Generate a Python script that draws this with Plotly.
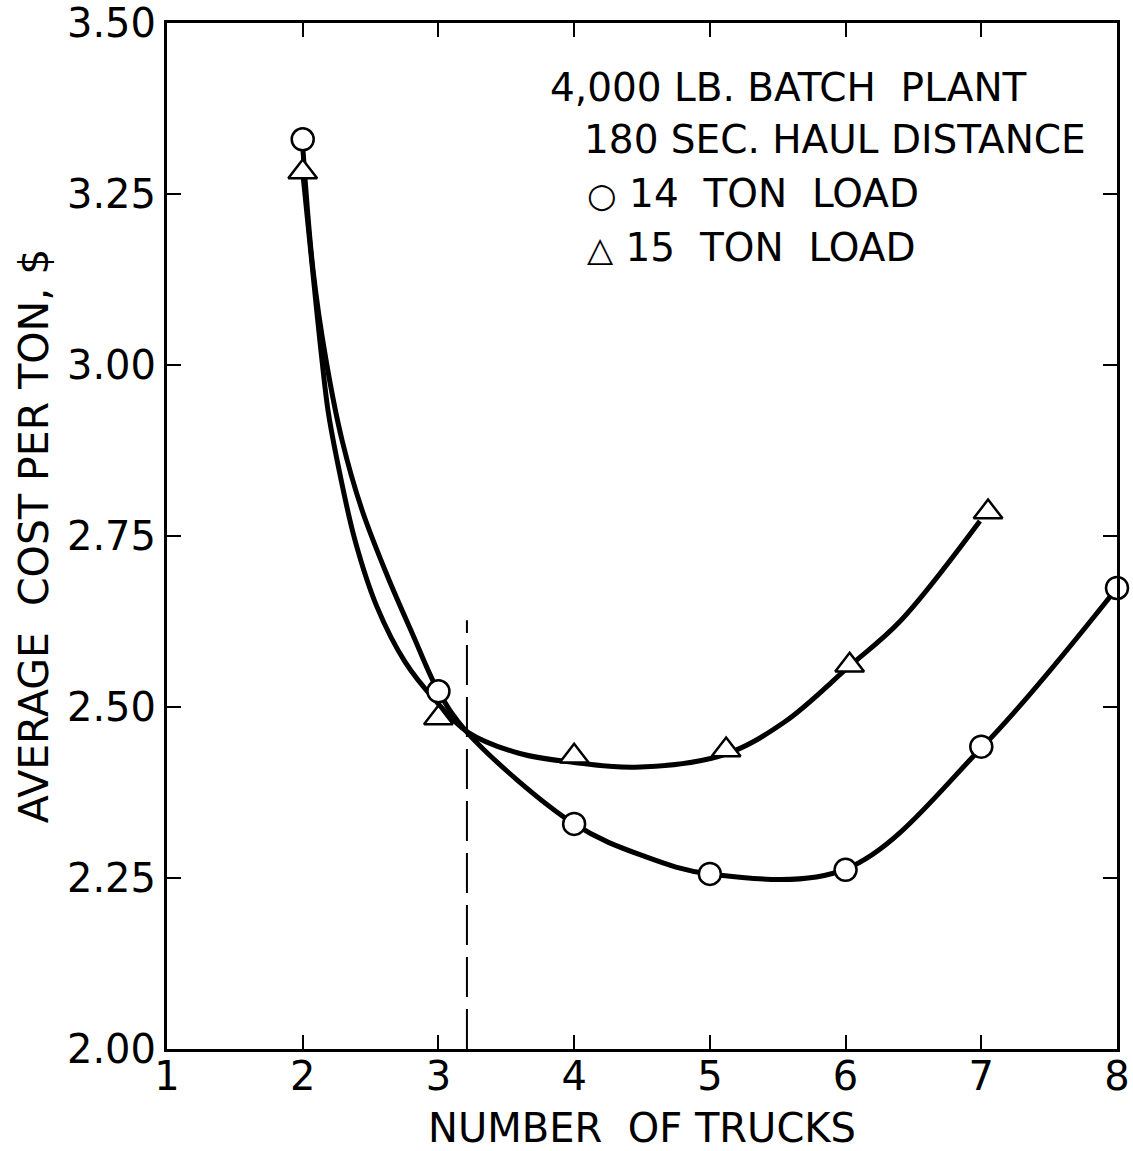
import plotly.graph_objects as go

# Measured points
trucks_14 = [2, 3, 4, 5, 6, 7, 8]
cost_14 = [3.33, 2.523, 2.329, 2.256, 2.262, 2.442, 2.674]

trucks_15 = [2, 3, 4, 5.12, 6.03, 7.05]
cost_15 = [3.282, 2.484, 2.428, 2.437, 2.561, 2.785]

# Hand-faired curves (knots)
curve_x_14 = [2.0, 2.076, 2.172, 2.290, 2.437, 2.621, 2.813, 3.0, 3.211, 4.0, 4.5, 5.0, 6.0, 7.0, 8.0]
curve_y_14 = [3.32, 3.139, 3.007, 2.890, 2.788, 2.693, 2.605, 2.523, 2.463, 2.329, 2.283, 2.256, 2.263, 2.44, 2.674]

curve_x_15 = [2.0, 2.105, 2.142, 2.186, 2.253, 2.385, 2.548, 2.754, 2.975, 3.218, 3.6, 4.0, 4.45, 5.1, 5.55, 6.03, 6.4, 6.99]
curve_y_15 = [3.282, 3.076, 3.007, 2.934, 2.861, 2.744, 2.646, 2.566, 2.510, 2.463, 2.432, 2.419, 2.412, 2.43, 2.478, 2.56, 2.625, 2.772]

cutoff_x = 3.21
cutoff_top = 2.627

x_ticks = [1, 2, 3, 4, 5, 6, 7, 8]
y_ticks = [2.00, 2.25, 2.50, 2.75, 3.00, 3.25, 3.50]
y_tick_labels = ["2.00", "2.25", "2.50", "2.75", "3.00", "3.25", "3.50"]

FONT = "DejaVu Sans"
NB = "\u00a0"

W, H = 1133, 1151
L, R, T, B = 167, 16, 23, 102
PW, PH = W - L - R, H - T - B

fig = go.Figure()

fig.add_trace(go.Scatter(x=curve_x_14, y=curve_y_14, mode="lines", name="14 ton curve",
                         line=dict(color="black", width=5, shape="spline", smoothing=1.0),
                         showlegend=False, hoverinfo="skip"))
fig.add_trace(go.Scatter(x=curve_x_15, y=curve_y_15, mode="lines", name="15 ton curve",
                         line=dict(color="black", width=5, shape="spline", smoothing=1.0),
                         showlegend=False, hoverinfo="skip"))

fig.add_trace(go.Scatter(x=trucks_14, y=cost_14, mode="markers", name="14 TON LOAD",
                         marker=dict(symbol="circle", size=22, color="white",
                                     line=dict(color="black", width=2.5)),
                         cliponaxis=False, showlegend=False))
fig.add_trace(go.Scatter(x=trucks_15, y=cost_15, mode="markers", name="15 TON LOAD",
                         marker=dict(symbol="triangle-up", size=25, color="white",
                                     line=dict(color="black", width=2.5)),
                         cliponaxis=False, showlegend=False))

fig.add_shape(type="line", x0=cutoff_x, x1=cutoff_x, y0=2.0, y1=cutoff_top, xref="x", yref="y",
              line=dict(color="black", width=2, dash="40px,12px"))

SYM = '<span style="font-size:34px">{}</span>'
notes = [
    ("4,000 LB. BATCH" + NB + NB + "PLANT", 548, 87),
    ("180 SEC. HAUL DISTANCE", 582, 139),
    (SYM.format("\u25cb") + NB + "14" + NB + NB + "TON" + NB + NB + "LOAD", 585, 193),
    (SYM.format("\u25b3") + NB + "15" + NB + NB + "TON" + NB + NB + "LOAD", 585, 247),
]
for txt, px, py in notes:
    fig.add_annotation(text=txt, x=(px - L) / PW, y=(H - B - py) / PH, xref="paper", yref="paper",
                       xanchor="left", yanchor="middle", showarrow=False,
                       font=dict(family=FONT, size=39, color="black"))

fig.update_xaxes(range=[1, 8], tickvals=x_ticks, ticktext=[str(v) for v in x_ticks],
                 showline=True, linecolor="black", linewidth=3, mirror="ticks",
                 ticks="inside", ticklen=14, tickwidth=2, tickcolor="black",
                 ticklabelstandoff=-10,
                 showgrid=False, zeroline=False, automargin=False,
                 tickfont=dict(family=FONT, size=40, color="black"),
                 title=dict(text="NUMBER" + NB + NB + "OF" + NB + "TRUCKS", standoff=17,
                            font=dict(family=FONT, size=40, color="black")))
fig.update_yaxes(range=[2.0, 3.5], tickvals=y_ticks, ticktext=y_tick_labels,
                 showline=True, linecolor="black", linewidth=3, mirror="ticks",
                 ticks="inside", ticklen=14, tickwidth=2, tickcolor="black",
                 showgrid=False, zeroline=False, automargin=False,
                 tickfont=dict(family=FONT, size=40, color="black"),
                 title=dict(text="AVERAGE" + NB + NB + "COST" + NB + "PER" + NB + "TON," + NB + "$", standoff=6,
                            font=dict(family=FONT, size=41, color="black")))

fig.update_layout(width=W, height=H, plot_bgcolor="white", paper_bgcolor="white",
                  margin=dict(l=L, r=R, t=T, b=B), showlegend=False)

fig.write_html("out.html")
